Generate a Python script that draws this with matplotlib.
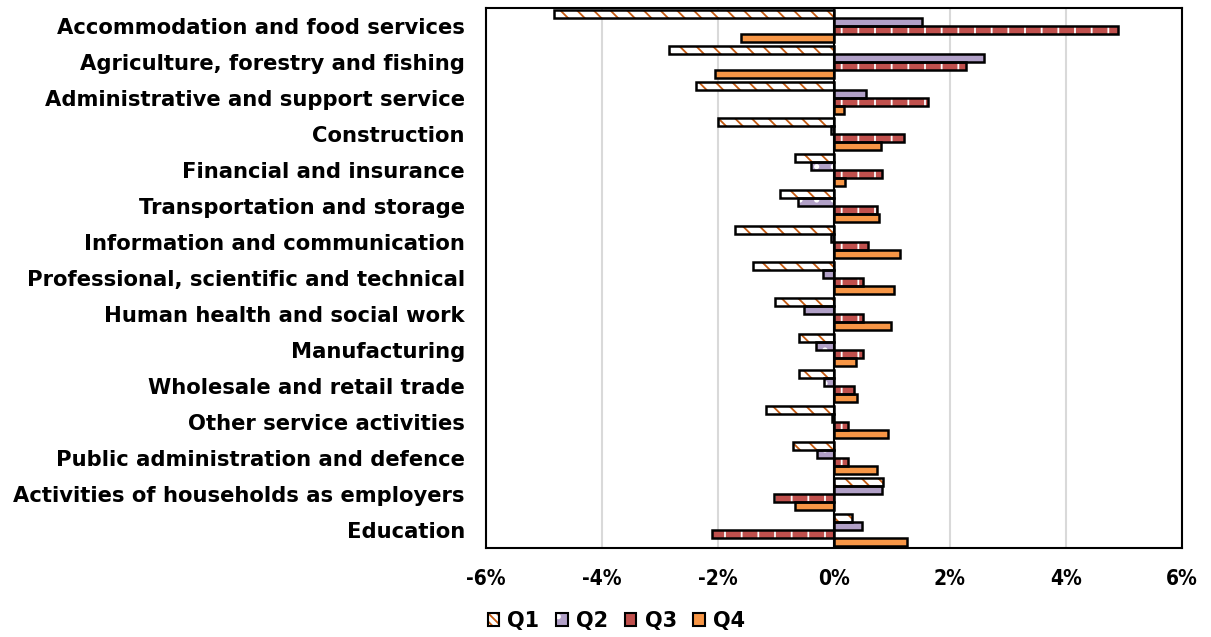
import matplotlib
matplotlib.use("Agg")
import matplotlib.pyplot as plt
import numpy as np
from matplotlib.patches import Patch
from matplotlib.legend_handler import HandlerTuple
from matplotlib.ticker import FuncFormatter, MultipleLocator

categories = [
    "Accommodation and food services",
    "Agriculture, forestry and fishing",
    "Administrative and support service",
    "Construction",
    "Financial and insurance",
    "Transportation and storage",
    "Information and communication",
    "Professional, scientific and technical",
    "Human health and social work",
    "Manufacturing",
    "Wholesale and retail trade",
    "Other service activities",
    "Public administration and defence",
    "Activities of households as employers",
    "Education",
]

q1 = [-4.83, -2.84, -2.38, -2.00, -0.67, -0.93, -1.71, -1.40, -1.02, -0.60, -0.60, -1.16, -0.70, 0.84, 0.32]
q2 = [1.52, 2.59, 0.55, -0.05, -0.40, -0.62, -0.05, -0.19, -0.52, -0.31, -0.17, -0.03, -0.29, 0.83, 0.48]
q3 = [4.90, 2.28, 1.62, 1.21, 0.83, 0.74, 0.59, 0.50, 0.50, 0.50, 0.34, 0.24, 0.24, -1.03, -2.09]
q4 = [-1.60, -2.05, 0.17, 0.81, 0.20, 0.78, 1.14, 1.03, 0.98, 0.38, 0.40, 0.93, 0.74, -0.66, 1.27]

series_names = ["Q1", "Q2", "Q3", "Q4"]
series_values = [q1, q2, q3, q4]

# face colour, hatch pattern, hatch colour
styles = [
    ("white", "\\\\", "#C55A11"),
    ("#B1A0C7", ".", "white"),
    ("#C0504D", "|", "white"),
    ("#F79646", "", "#F79646"),
]

plt.rcParams["font.family"] = ["DejaVu Sans"]
plt.rcParams["font.weight"] = "bold"
plt.rcParams["hatch.linewidth"] = 1.3

fig = plt.figure(figsize=(12.11, 6.37), dpi=100)
ax = fig.add_axes([0.401, 0.139, 0.575, 0.848])

n = len(categories)
y = np.arange(n)
bar_h = 0.222
offsets = (np.arange(4) - 1.5) * bar_h

for vals, off, (fc, hatch, hc) in zip(series_values, offsets, styles):
    ax.barh(y + off, vals, height=bar_h, color=fc, hatch=hatch,
            edgecolor=hc, linewidth=0, zorder=3)
    ax.barh(y + off, vals, height=bar_h, fill=False,
            edgecolor="black", linewidth=1.8, zorder=4)

ax.set_xlim(-6, 6)
ax.set_ylim(n - 0.5, -0.5)
ax.xaxis.set_major_locator(MultipleLocator(2))
ax.xaxis.set_major_formatter(FuncFormatter(lambda v, p: f"{v:.0f}%"))
ax.grid(axis="x", color="#D9D9D9", linewidth=1.5, zorder=0)
ax.axvline(0, color="black", linewidth=1.5, zorder=5)

ax.set_yticks(y)
ax.set_yticklabels(categories, fontsize=15.2, fontweight="bold")
ax.tick_params(axis="y", length=0, pad=15)
ax.tick_params(axis="x", length=0, pad=15)
for lbl in ax.get_xticklabels():
    lbl.set_fontweight("bold")
    lbl.set_fontsize(15)
    lbl.set_fontstretch("condensed")

for s in ax.spines.values():
    s.set_color("black")
    s.set_linewidth(1.5)

# legend swatches: hatched fill underneath, black outline on top
handles = [(Patch(facecolor=fc, hatch=hatch * 2 if hatch.startswith("\\") else hatch,
                  edgecolor=hc, linewidth=0),
            Patch(fill=False, edgecolor="black", linewidth=1.5))
           for (fc, hatch, hc) in styles]
leg = fig.legend(handles, series_names, loc="center", bbox_to_anchor=(0.509, 0.025),
                 ncol=4, frameon=False, handlelength=0.55,
                 handleheight=0.55, handletextpad=0.4, columnspacing=0.8,
                 handler_map={tuple: HandlerTuple(ndivide=1, pad=0)},
                 prop={"weight": "bold", "size": 15})

fig.savefig("out.png", dpi=100)
